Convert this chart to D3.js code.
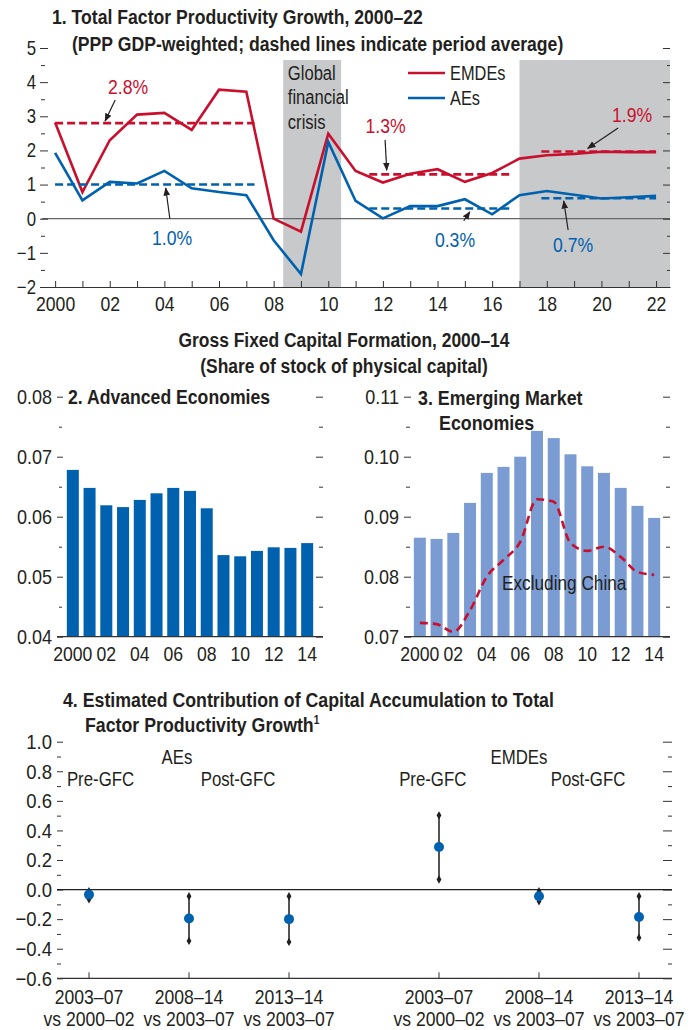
<!DOCTYPE html>
<html>
<head>
<meta charset="utf-8">
<script src="https://cdn.jsdelivr.net/npm/d3@7"></script>
<style>
  body { margin: 0; background: #fff; }
  svg text { font-family: 'Liberation Sans', Arial, sans-serif; fill: #231f20; }
  .ttl { font-weight: bold; }
</style>
</head>
<body>
<div id="chart"></div>
<script>
// ---- panel 1: TFP growth
const tfpYears = d3.range(2000, 2023);
const tfpTickLabels = ["2000","02","04","06","08","10","12","14","16","18","20","22"];
const emdeTfp = [2.82, 0.78, 2.30, 3.05, 3.10, 2.60, 3.78, 3.72, 0.00, -0.38, 2.49, 1.40, 1.06, 1.32, 1.45, 1.08, 1.34, 1.76, 1.86, 1.90, 1.96, 1.95, 1.95];
const aeTfp   = [1.93, 0.54, 1.08, 1.03, 1.40, 0.89, 0.78, 0.69, -0.63, -1.62, 2.25, 0.52, 0.01, 0.37, 0.37, 0.57, 0.13, 0.69, 0.81, 0.70, 0.59, 0.63, 0.67];
const avgPeriods = [[2000, 2007.3], [2011.5, 2016.7], [2017.8, 2022]];
const emdeAvg = [2.8, 1.3, 1.97];
const aeAvg   = [1.0, 0.3, 0.6];
const avgLabels = { emde: ["2.8%", "1.3%", "1.9%"], ae: ["1.0%", "0.3%", "0.7%"] };
const shadedPeriods = [[2008.35, 2010.47], [2017, 2022.51]];

// ---- panels 2-3: gross fixed capital formation
const gfcfYears = d3.range(2000, 2015);
const gfcfTickLabels = ["2000","02","04","06","08","10","12","14"];
const aeGfcf   = [0.0678, 0.0648, 0.0619, 0.0616, 0.0628, 0.0639, 0.0648, 0.0643, 0.0614, 0.0536, 0.0534, 0.0543, 0.0549, 0.0548, 0.0556];
const emGfcf   = [0.0865, 0.0863, 0.0873, 0.0923, 0.0973, 0.0983, 0.1000, 0.1043, 0.1031, 0.1004, 0.0984, 0.0973, 0.0948, 0.0918, 0.0898];
const emExChina = [0.0723, 0.0721, 0.0708, 0.0744, 0.0800, 0.0828, 0.0858, 0.0929, 0.0925, 0.0856, 0.0843, 0.0850, 0.0833, 0.0808, 0.0803];

// ---- panel 4: contribution of capital accumulation
const contribGroups = ["AEs", "EMDEs"];
const contribPeriods = ["2003–07", "2008–14", "2013–14"];
const contribBase = ["vs 2000–02", "vs 2003–07", "vs 2003–07"];
const aeEst  = [-0.034, -0.196, -0.200];
const aeHigh = [-0.011, -0.045, -0.045];
const aeLow  = [-0.066, -0.347, -0.354];
const emdeEst  = [0.288, -0.045, -0.185];
const emdeHigh = [0.502, -0.011, -0.045];
const emdeLow  = [0.068, -0.079, -0.325];

const RED = "#c8102e", BLUE = "#0061ae", LIGHTBLUE = "#7b9cd3", SHADE = "#c8c9cb";

const svg = d3.select("#chart").append("svg").attr("width", 691).attr("height", 1030);
svg.append("defs").append("marker")
  .attr("id", "arrow").attr("viewBox", "0 0 10 10").attr("refX", 9).attr("refY", 5)
  .attr("markerWidth", 7).attr("markerHeight", 7).attr("orient", "auto-start-reverse")
  .append("path").attr("d", "M0,1L10,5L0,9Z").attr("fill", "#231f20");

// squeeze text horizontally (condensed look) while keeping its anchor in place
function cond(sel, s) {
  sel.each(function () {
    const t = d3.select(this);
    const x = t.attr("x");
    if (x !== null && x !== "") t.attr("x", +x / s);
    t.selectAll("tspan").each(function () {
      const ts = d3.select(this), tx = ts.attr("x");
      if (tx !== null && tx !== "") ts.attr("x", +tx / s);
    });
    t.attr("transform", (t.attr("transform") || "") + ` scale(${s},1)`);
  });
  return sel;
}

function label(x, y, txt, size, opts = {}) {
  const t = svg.append("text").attr("x", x).attr("y", y).attr("font-size", size)
    .attr("text-anchor", opts.anchor || "start").text(txt);
  if (opts.bold) t.attr("class", "ttl");
  if (opts.mid) t.attr("dy", "0.35em");
  if (opts.color) t.style("fill", opts.color);
  cond(t, opts.s || 0.8);
  return t;
}

function yTicks(scale, values, x, size, fmt, pad, fs, s) {
  const ax = d3.axisLeft(scale).tickValues(values).tickSize(size).tickPadding(pad || 4)
    .tickFormat(fmt || (() => ""));
  const g = svg.append("g").attr("transform", `translate(${x},0)`).call(ax);
  g.select(".domain").remove();
  g.selectAll("line").attr("stroke", "#333");
  g.attr("font-family", null).attr("font-size", fs || 20);
  if (fmt) cond(g.selectAll("text"), s || 0.82);
  return g;
}

// ================= Panel 1 =================
const x1 = d3.scaleLinear().domain([1999.52, 2022.51]).range([42, 670]);
const y1 = d3.scaleLinear().domain([-2, 5]).range([287, 48]);

label(52, 24, "1. Total Factor Productivity Growth, 2000–22", 21, { bold: true, s: 0.84 });
label(72, 51, "(PPP GDP-weighted; dashed lines indicate period average)", 21, { bold: true, s: 0.84 });

svg.append("g").selectAll("rect").data(shadedPeriods).join("rect")
  .attr("x", d => x1(d[0])).attr("width", d => x1(d[1]) - x1(d[0]))
  .attr("y", 60).attr("height", y1(-2) - 60).attr("fill", SHADE);

svg.append("line").attr("x1", 42).attr("x2", 670).attr("y1", y1(0)).attr("y2", y1(0))
  .attr("stroke", "#666").attr("stroke-width", 1.2);

yTicks(y1, d3.range(-2, 6), 48, 8, d3.format("d"), 4, 20, 0.84);
yTicks(y1, d3.range(-1.5, 5, 1), 45, 4);
yTicks(y1, d3.range(-2, 6), 670, 7);
yTicks(y1, d3.range(-1.5, 5, 1), 670, 3);

const xAx1 = d3.axisBottom(x1).tickValues(tfpYears).tickSizeInner(-6).tickSizeOuter(0).tickPadding(9)
  .tickFormat(d => (d % 2 === 0 ? tfpTickLabels[(d - 2000) / 2] : ""));
const gx1 = svg.append("g").attr("transform", `translate(0,${y1(-2)})`).call(xAx1);
gx1.attr("font-family", null).attr("font-size", 21);
gx1.select(".domain").attr("stroke", "#333").attr("stroke-width", 1.2);
gx1.selectAll("line").attr("stroke", "#333");
cond(gx1.selectAll("text"), 0.84);

const gfc = svg.append("text").attr("font-size", 21);
gfc.selectAll("tspan").data(["Global", "financial", "crisis"]).join("tspan")
  .attr("x", x1(2008.52)).attr("y", (d, i) => 80 + i * 24.5).text(d => d);
cond(gfc, 0.79);

const line1 = d3.line().x((d, i) => x1(tfpYears[i])).y(d => y1(d));
svg.append("path").datum(emdeTfp).attr("d", line1).attr("fill", "none").attr("stroke", RED).attr("stroke-width", 2.6);
svg.append("path").datum(aeTfp).attr("d", line1).attr("fill", "none").attr("stroke", BLUE).attr("stroke-width", 2.6);

function avgLines(vals, color) {
  svg.append("g").selectAll("line").data(avgPeriods).join("line")
    .attr("x1", d => x1(d[0])).attr("x2", d => x1(d[1]))
    .attr("y1", (d, i) => y1(vals[i])).attr("y2", (d, i) => y1(vals[i]))
    .attr("stroke", color).attr("stroke-width", 2.6).attr("stroke-dasharray", "8,4");
}
avgLines(emdeAvg, RED);
avgLines(aeAvg, BLUE);

// annotations: [label, color, textX, textY, arrowFromX, arrowFromY, arrowToX, arrowToY] in data units
const notes = [
  [avgLabels.emde[0], RED, 2002.67, 3.86, 2002.2, 3.48, 2001.83, 2.86],
  [avgLabels.ae[0], BLUE, 2004.28, -0.56, 2004.2, 0.0, 2004.05, 0.9],
  [avgLabels.emde[1], RED, 2012.1, 2.72, 2012.08, 2.31, 2012.14, 1.42],
  [avgLabels.ae[1], BLUE, 2014.64, -0.62, 2014.96, -0.06, 2015.18, 0.2],
  [avgLabels.ae[2], BLUE, 2018.96, -0.77, 2018.78, -0.33, 2018.62, 0.52],
  [avgLabels.emde[2], RED, 2021.12, 3.04, 2020.61, 2.66, 2019.5, 2.06]
];
notes.forEach(n => {
  label(x1(n[2]), y1(n[3]), n[0], 21, { anchor: "middle", mid: true, color: n[1], s: 0.84 });
  svg.append("line").attr("x1", x1(n[4])).attr("y1", y1(n[5])).attr("x2", x1(n[6])).attr("y2", y1(n[7]))
    .attr("stroke", "#231f20").attr("stroke-width", 1.2).attr("marker-end", "url(#arrow)");
});

// legend
[["EMDEs", RED], ["AEs", BLUE]].forEach((d, i) => {
  const yy = 73 + i * 25;
  svg.append("line").attr("x1", 408).attr("x2", 445).attr("y1", yy).attr("y2", yy)
    .attr("stroke", d[1]).attr("stroke-width", 2.6);
  label(450, yy, d[0], 21, { mid: true, s: 0.78 });
});

// ================= Panels 2 & 3 =================
label(344, 347, "Gross Fixed Capital Formation, 2000–14", 21, { bold: true, anchor: "middle", s: 0.83 });
label(344, 373, "(Share of stock of physical capital)", 21, { bold: true, anchor: "middle", s: 0.83 });

function gfcfPanel(x0, x1p, yDom, bars, barColor, leftX, leftSize, rightSize) {
  const x = d3.scaleBand().domain(gfcfYears).range([x0, x1p]).paddingInner(0.283).paddingOuter(0.587);
  const y = d3.scaleLinear().domain(yDom).range([636.7, 396.7]);
  const major = d3.range(yDom[0], yDom[1] + 0.0001, 0.01);
  const minor = d3.range(yDom[0] + 0.005, yDom[1], 0.01);
  yTicks(y, major, leftX, leftSize, d3.format(".2f"), 5, 20, 0.9);
  yTicks(y, minor, leftX - 1, leftSize - 3);
  yTicks(y, major, x1p, rightSize);
  yTicks(y, minor, x1p, rightSize - 3);
  svg.append("g").selectAll("rect").data(bars).join("rect")
    .attr("x", (d, i) => x(gfcfYears[i])).attr("width", x.bandwidth())
    .attr("y", d => y(d)).attr("height", d => y(yDom[0]) - y(d)).attr("fill", barColor);
  svg.append("line").attr("x1", x0).attr("x2", x1p).attr("y1", y(yDom[0])).attr("y2", y(yDom[0]))
    .attr("stroke", "#333").attr("stroke-width", 1.2);
  const lab = svg.append("g").attr("font-size", 21).selectAll("text").data(gfcfTickLabels).join("text")
    .attr("x", (d, i) => x(2000 + i * 2) + x.bandwidth() / 2)
    .attr("y", 654).attr("dy", "0.35em").attr("text-anchor", "middle").text(d => d);
  cond(lab, 0.84);
  return { x, y };
}

gfcfPanel(57, 323, [0.04, 0.08], aeGfcf, BLUE, 63, 6, 7);
label(68, 397, "2. Advanced Economies", 21, { bold: true, mid: true, s: 0.84 });

const p3 = gfcfPanel(404, 670, [0.07, 0.11], emGfcf, LIGHTBLUE, 411, 7, 7);
const line3 = d3.line().curve(d3.curveMonotoneX)
  .x((d, i) => p3.x(gfcfYears[i]) + p3.x.bandwidth() / 2).y(d => p3.y(d));
svg.append("path").datum(emExChina).attr("d", line3).attr("fill", "none")
  .attr("stroke", RED).attr("stroke-width", 2.6).attr("stroke-dasharray", "8,5");
label(502, 583, "Excluding China", 21, { mid: true, s: 0.82 });
label(418, 398, "3. Emerging Market", 21, { bold: true, mid: true, s: 0.85 });
label(439, 423, "Economies", 21, { bold: true, mid: true, s: 0.85 });

// ================= Panel 4 =================
label(63, 707, "4. Estimated Contribution of Capital Accumulation to Total", 21, { bold: true, s: 0.845 });
const t4 = label(85, 732, "Factor Productivity Growth", 21, { bold: true, s: 0.845 });
t4.append("tspan").attr("dy", -8).attr("font-size", 12).text("1");

const x4 = d3.scaleLinear().domain([-0.32, 5.83]).range([57, 672]);
const y4 = d3.scaleLinear().domain([-0.6, 1.0]).range([978.3, 741.7]);
const slot = (g, i) => g * 3.5 + i;

yTicks(y4, d3.range(-0.6, 1.01, 0.2), 63, 6, d3.format(".1f"), 5, 21, 0.88);
yTicks(y4, d3.range(-0.5, 1.0, 0.2), 61, 4);
yTicks(y4, d3.range(-0.6, 1.01, 0.2), 672, 9);
yTicks(y4, d3.range(-0.5, 1.0, 0.2), 672, 4);

svg.append("line").attr("x1", 57).attr("x2", 672).attr("y1", y4(0)).attr("y2", y4(0))
  .attr("stroke", "#231f20").attr("stroke-width", 1.2);
svg.append("line").attr("x1", 57).attr("x2", 672).attr("y1", y4(-0.6)).attr("y2", y4(-0.6))
  .attr("stroke", "#333").attr("stroke-width", 1.2);

const contrib = [];
[[aeEst, aeLow, aeHigh], [emdeEst, emdeLow, emdeHigh]].forEach((s, g) => {
  contribPeriods.forEach((p, i) => contrib.push({ g, i, est: s[0][i], lo: s[1][i], hi: s[2][i] }));
});

const g4 = svg.append("g");
g4.selectAll(".tick4").data(contrib).join("line")
  .attr("x1", d => x4(slot(d.g, d.i))).attr("x2", d => x4(slot(d.g, d.i)))
  .attr("y1", y4(-0.6)).attr("y2", y4(-0.6) - 6).attr("stroke", "#333");
g4.selectAll(".err").data(contrib).join("line")
  .attr("x1", d => x4(slot(d.g, d.i))).attr("x2", d => x4(slot(d.g, d.i)))
  .attr("y1", d => y4(d.lo)).attr("y2", d => y4(d.hi)).attr("stroke", "#555").attr("stroke-width", 2);
const diamond = d3.symbol().type(d3.symbolDiamond).size(20);
contrib.forEach(d => {
  [d.lo, d.hi].forEach(v => {
    g4.append("path").attr("d", diamond).attr("transform", `translate(${x4(slot(d.g, d.i))},${y4(v)})`).attr("fill", "#231f20");
  });
});
g4.selectAll(".dot").data(contrib).join("circle")
  .attr("cx", d => x4(slot(d.g, d.i))).attr("cy", d => y4(d.est)).attr("r", 5).attr("fill", BLUE);

contrib.forEach(d => {
  label(x4(slot(d.g, d.i)), 1004, contribPeriods[d.i], 20, { anchor: "middle", s: 0.88 });
  label(x4(slot(d.g, d.i)), 1026, contribBase[d.i], 20, { anchor: "middle", s: 0.88 });
});

// group / period headers (slot offsets within each group)
const groupLabelPos = [[0.88, 0.115, 1.49], [0.80, -0.063, 1.49]];
contribGroups.forEach((name, g) => {
  const p = groupLabelPos[g];
  label(x4(slot(g, p[0])), 757, name, 21, { anchor: "middle", mid: true, s: 0.8 });
  label(x4(slot(g, p[1])), 779, "Pre-GFC", 21, { anchor: "middle", mid: true, s: 0.8 });
  label(x4(slot(g, p[2])), 779, "Post-GFC", 21, { anchor: "middle", mid: true, s: 0.8 });
});
</script>
</body>
</html>
